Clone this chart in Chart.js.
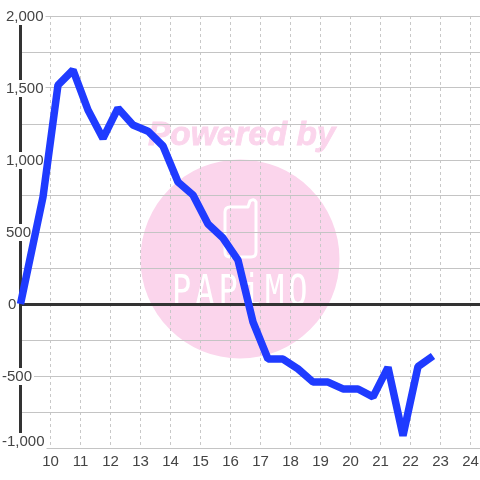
<!DOCTYPE html>
<html>
<head>
<meta charset="utf-8">
<style>
  html, body { margin: 0; padding: 0; background: #fff; }
  canvas { display: block; }
</style>
<script src="https://cdn.jsdelivr.net/npm/chart.js@4"></script>
</head>
<body>
<canvas id="chart" width="480" height="480"></canvas>
<script>
const hours = [9, 9.75, 10.25, 10.75, 11.25, 11.75, 12.25, 12.75, 13.25, 13.75, 14.25, 14.75, 15.25, 15.75, 16.25, 16.75, 17.25, 17.75, 18.25, 18.75, 19.25, 19.75, 20.25, 20.75, 21.25, 21.75, 22.25, 22.75];
const values = [0, 743, 1520, 1625, 1347, 1150, 1360, 1243, 1200, 1097, 847, 757, 555, 458, 305, -125, -382, -382, -451, -542, -542, -590, -590, -645, -440, -915, -435, -361];
const xTicks = [10, 11, 12, 13, 14, 15, 16, 17, 18, 19, 20, 21, 22, 23, 24];
const yLabelled = [2000, 1500, 1000, 500, 0, -500, -1000];

const FONT = '15px "Liberation Sans", Arial, sans-serif';
const TEXT = '#444444';

// pink logo behind the grid
const watermark = {
  id: 'watermark',
  beforeDraw(chart) {
    const c = chart.ctx;
    c.save();
    c.fillStyle = '#fbd5ec';
    c.beginPath();
    c.arc(240, 259, 99.5, 0, Math.PI * 2);
    c.fill();
    c.font = 'italic bold 33.4px "Liberation Sans", Arial, sans-serif';
    c.textAlign = 'left';
    c.textBaseline = 'alphabetic';
    c.strokeStyle = '#fbd5ec';
    c.lineWidth = 0.8;
    c.fillText('Powered by', 148, 145);
    c.strokeText('Powered by', 148, 145);

    c.strokeStyle = '#ffffff';
    c.lineWidth = 3;
    c.lineJoin = 'round';
    c.beginPath();
    c.moveTo(230, 207);
    c.lineTo(248, 207);
    c.lineTo(250, 201);
    c.quadraticCurveTo(254, 198, 256, 202);
    c.lineTo(256, 252);
    c.quadraticCurveTo(256, 257, 251, 257);
    c.lineTo(230, 257);
    c.quadraticCurveTo(225, 257, 225, 252);
    c.lineTo(225, 212);
    c.quadraticCurveTo(225, 207, 230, 207);
    c.stroke();

    // stretched to the tall, thin look of the logo lettering
    c.save();
    c.translate(172, 305);
    c.scale(1, 1.33);
    c.fillStyle = '#ffffff';
    c.font = '32px "DejaVu Sans Mono", monospace';
    c.letterSpacing = '4px';
    c.fillText('PAPiMO', 0, 0);
    c.restore();
    c.restore();
  }
};

// y labels sit on a white box over the axis line, the lowest one is nudged up
const yLabels = {
  id: 'yLabels',
  beforeDatasetsDraw(chart) {
    const c = chart.ctx;
    const y = chart.scales.y;
    c.save();
    c.font = FONT;
    c.textAlign = 'left';
    c.textBaseline = 'middle';
    yLabelled.forEach(v => {
      const text = v.toLocaleString('en-US');
      const left = v < 0 ? 2 : (v === 0 ? 8 : 6);
      const py = y.getPixelForValue(v) + (v === y.min ? -6 : 1);
      const w = c.measureText(text).width;
      c.fillStyle = '#ffffff';
      c.fillRect(left - 2, py - 9, w + 4, v === y.min ? 22 : 17);
      c.fillStyle = TEXT;
      c.fillText(text, left, py);
    });
    c.restore();
  }
};

new Chart(document.getElementById('chart'), {
  type: 'line',
  data: {
    datasets: [{
      data: hours.map((h, i) => ({ x: h, y: values[i] })),
      borderColor: '#1f3bff',
      borderWidth: 7.5,
      borderJoinStyle: 'bevel',
      borderCapStyle: 'butt',
      pointRadius: 0,
      tension: 0,
      clip: false
    }]
  },
  options: {
    responsive: false,
    animation: false,
    devicePixelRatio: 1,
    layout: { padding: { left: 20.5, right: 0, top: 16, bottom: 0 } },
    plugins: { legend: { display: false }, tooltip: { enabled: false } },
    scales: {
      x: {
        type: 'linear',
        min: 9,
        max: 24.317,
        afterBuildTicks(s) { s.ticks = xTicks.map(v => ({ value: v })); },
        afterFit(s) { s.height = 32; s.paddingLeft = 0; s.paddingRight = 0; },
        grid: { color: '#c8c8c8', lineWidth: 1, drawTicks: false },
        border: { display: false, dash: [3, 3] },
        ticks: {
          color: TEXT,
          font: { family: '"Liberation Sans", Arial, sans-serif', size: 15 },
          maxRotation: 0,
          autoSkip: false,
          padding: 5,
          callback: v => String(v)
        }
      },
      y: {
        min: -1000,
        max: 2000,
        afterFit(s) { s.width = 0; },
        grid: {
          color: ctx => ctx.tick.value === 0 ? '#333333' : '#c4c4c4',
          lineWidth: ctx => ctx.tick.value === 0 ? 3 : 1,
          drawTicks: false
        },
        border: { display: true, color: '#333333', width: 3 },
        ticks: { display: false, stepSize: 250 }
      }
    }
  },
  plugins: [watermark, yLabels]
});
</script>
</body>
</html>
